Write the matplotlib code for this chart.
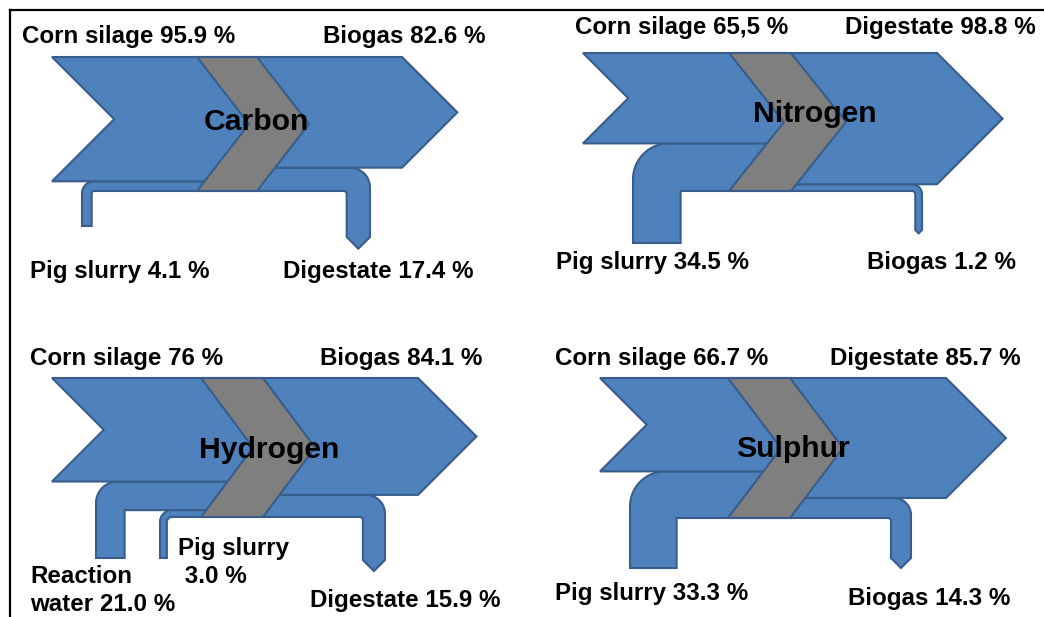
import numpy as np
import matplotlib
matplotlib.use("Agg")
import matplotlib.pyplot as plt
from matplotlib.patches import Polygon

# ---- data (percent strings kept as printed in the figure) ----
elements = ["Carbon", "Nitrogen", "Hydrogen", "Sulphur"]
in_names = [["Corn silage", "Pig slurry"],
            ["Corn silage", "Pig slurry"],
            ["Corn silage", "Reaction\nwater", "Pig slurry\n"],
            ["Corn silage", "Pig slurry"]]
in_pct = [["95.9", "4.1"],
          ["65,5", "34.5"],
          ["76", "21.0", "3.0"],
          ["66.7", "33.3"]]
out_names = [["Biogas", "Digestate"],
             ["Digestate", "Biogas"],
             ["Biogas", "Digestate"],
             ["Digestate", "Biogas"]]
out_pct = [["82.6", "17.4"],
           ["98.8", "1.2"],
           ["84.1", "15.9"],
           ["85.7", "14.3"]]

# ---- layout (pixel coords, y downwards) ----
layout = [
    dict(ytop=57, H=134, x0=52, xg=197, w=60, k=52, xhead=402,
         in_pipes=[(82, 226)], out_pipes=[(370, 237)], minh=10,
         title=(256, 130),
         in_lab=[(22, 43), (30, 278)], out_lab=[(323, 43), (283, 278)]),
    dict(ytop=53, H=138, x0=583, xg=729, w=62, k=55, xhead=937,
         in_pipes=[(633, 243)], out_pipes=[(922, 230)], minh=7,
         title=(815, 122),
         in_lab=[(575, 34), (556, 269)], out_lab=[(845, 34), (867, 269)]),
    dict(ytop=378, H=139, x0=52, xg=201, w=62, k=52, xhead=418,
         in_pipes=[(96, 558), (160, 558)], out_pipes=[(385, 560)], minh=7,
         title=(269, 458),
         in_lab=[(30, 365), (30, 583), (178, 555)], out_lab=[(320, 365), (310, 607)]),
    dict(ytop=378, H=140, x0=600, xg=728, w=62, k=53, xhead=946,
         in_pipes=[(630, 568)], out_pipes=[(911, 558)], minh=7,
         title=(793, 457),
         in_lab=[(555, 365), (555, 600)], out_lab=[(830, 365), (848, 605)]),
]

blue = "#4F81BD"
edge = "#385D8A"
grey = "#7F7F7F"
plt.rcParams['font.family'] = ['Liberation Sans', 'DejaVu Sans']


def heights(pcts, H, minh):
    v = np.array([float(p.replace(",", ".")) for p in pcts])
    h = np.maximum(v / v.sum() * H, minh)
    return h / h.sum() * H


def arc(cx, cy, r, a0, a1, n=16):
    t = np.radians(np.linspace(a0, a1, n))
    return list(zip(cx + r * np.cos(t), cy + r * np.sin(t)))


fig = plt.figure(figsize=(10.44, 6.17), dpi=100)
ax = fig.add_axes([0, 0, 1, 1])
ax.set_xlim(0, 1044)
ax.set_ylim(617, 0)
ax.axis("off")

# frame
ax.plot([10, 10], [617, 10], color="k", lw=1.6)
ax.plot([10, 1044], [10, 10], color="k", lw=1.6)

style = dict(facecolor=blue, edgecolor=edge, lw=1.5, joinstyle="miter")

for n, el in enumerate(elements):
    g = layout[n]
    ytop, H, xg, w, k = g["ytop"], g["H"], g["xg"], g["w"], g["k"]
    ymid = ytop + H / 2

    def L(y):
        return xg + k * (1 - abs(y - ymid) / (H / 2))

    def side(ya, yb, off):
        pts = [(L(ya) + off, ya)]
        if ya < ymid < yb:
            pts.append((L(ymid) + off, ymid))
        pts.append((L(yb) + off, yb))
        return pts

    hin = heights(in_pct[n], H, g["minh"])
    hout = heights(out_pct[n], H, g["minh"])
    yin = ytop + np.concatenate([[0], np.cumsum(hin)])
    yout = ytop + np.concatenate([[0], np.cumsum(hout)])

    # input pipes (from below, turning right)
    for i in range(1, len(hin)):
        ya, yb, h = yin[i], yin[i + 1], hin[i]
        xp, ybot = g["in_pipes"][i - 1]
        ro = max(0.75 * h, 12)
        ri = max(ro - h, 0)
        pts = [(xp, ybot)] + arc(xp + ro, ya + ro, ro, 180, 270)
        pts += side(ya, yb, w / 2)
        if ri > 0:
            pts += arc(xp + h + ri, yb + ri, ri, 270, 180)
        else:
            pts.append((xp + h, yb))
        pts.append((xp + h, ybot))
        ax.add_patch(Polygon(pts, closed=True, **style))

    # output pipes (turning right then down, pointed end)
    for i in range(1, len(hout)):
        ya, yb, h = yout[i], yout[i + 1], hout[i]
        xr, yend = g["out_pipes"][i - 1]
        ro = max(0.85 * h, 10)
        ri = max(ro - h, 3)
        pts = [side(ya, yb, w / 2)[0]]
        pts += arc(xr - ro, ya + ro, ro, 270, 360)
        pts += [(xr, yend), (xr - h / 2, yend + h / 2), (xr - h, yend)]
        pts += arc(xr - h - ri, yb + ri, ri, 0, -90)
        pts += side(ya, yb, w / 2)[::-1]
        ax.add_patch(Polygon(pts, closed=True, **style))

    # main input arrow (notched tail)
    ya, yb, h = yin[0], yin[1], hin[0]
    x0 = g["x0"]
    pts = [(x0, ya)] + side(ya, yb, w / 2) + [(x0, yb), (x0 + 0.5 * h, (ya + yb) / 2)]
    ax.add_patch(Polygon(pts, closed=True, **style))

    # main output arrow
    ya, yb, h = yout[0], yout[1], hout[0]
    xh = g["xhead"]
    pts = [(xh, ya), (xh + h / 2, (ya + yb) / 2), (xh, yb)] + side(ya, yb, w / 2)[::-1]
    ax.add_patch(Polygon(pts, closed=True, **style))

    # grey chevron (digester)
    ybot = ytop + H
    pts = [(xg, ytop), (xg + w, ytop), (xg + w + k, ymid), (xg + w, ybot), (xg, ybot), (xg + k, ymid)]
    ax.add_patch(Polygon(pts, closed=True, facecolor=grey, edgecolor=edge, lw=1.5, joinstyle="miter"))

    # texts
    tx, ty = g["title"]
    ax.text(tx, ty, el, ha="center", va="baseline", fontsize=21.7, fontweight="bold")
    labs = [(nm, p, pos) for nm, p, pos in zip(in_names[n], in_pct[n], g["in_lab"])]
    labs += [(nm, p, pos) for nm, p, pos in zip(out_names[n], out_pct[n], g["out_lab"])]
    for nm, p, (lx, ly) in labs:
        txt = nm + " " + p + " %"
        for j, line in enumerate(txt.split("\n")):
            ax.text(lx, ly + j * 28, line, ha="left", va="baseline",
                    fontsize=17.4, fontweight="bold")

fig.savefig("out.png", dpi=100)
